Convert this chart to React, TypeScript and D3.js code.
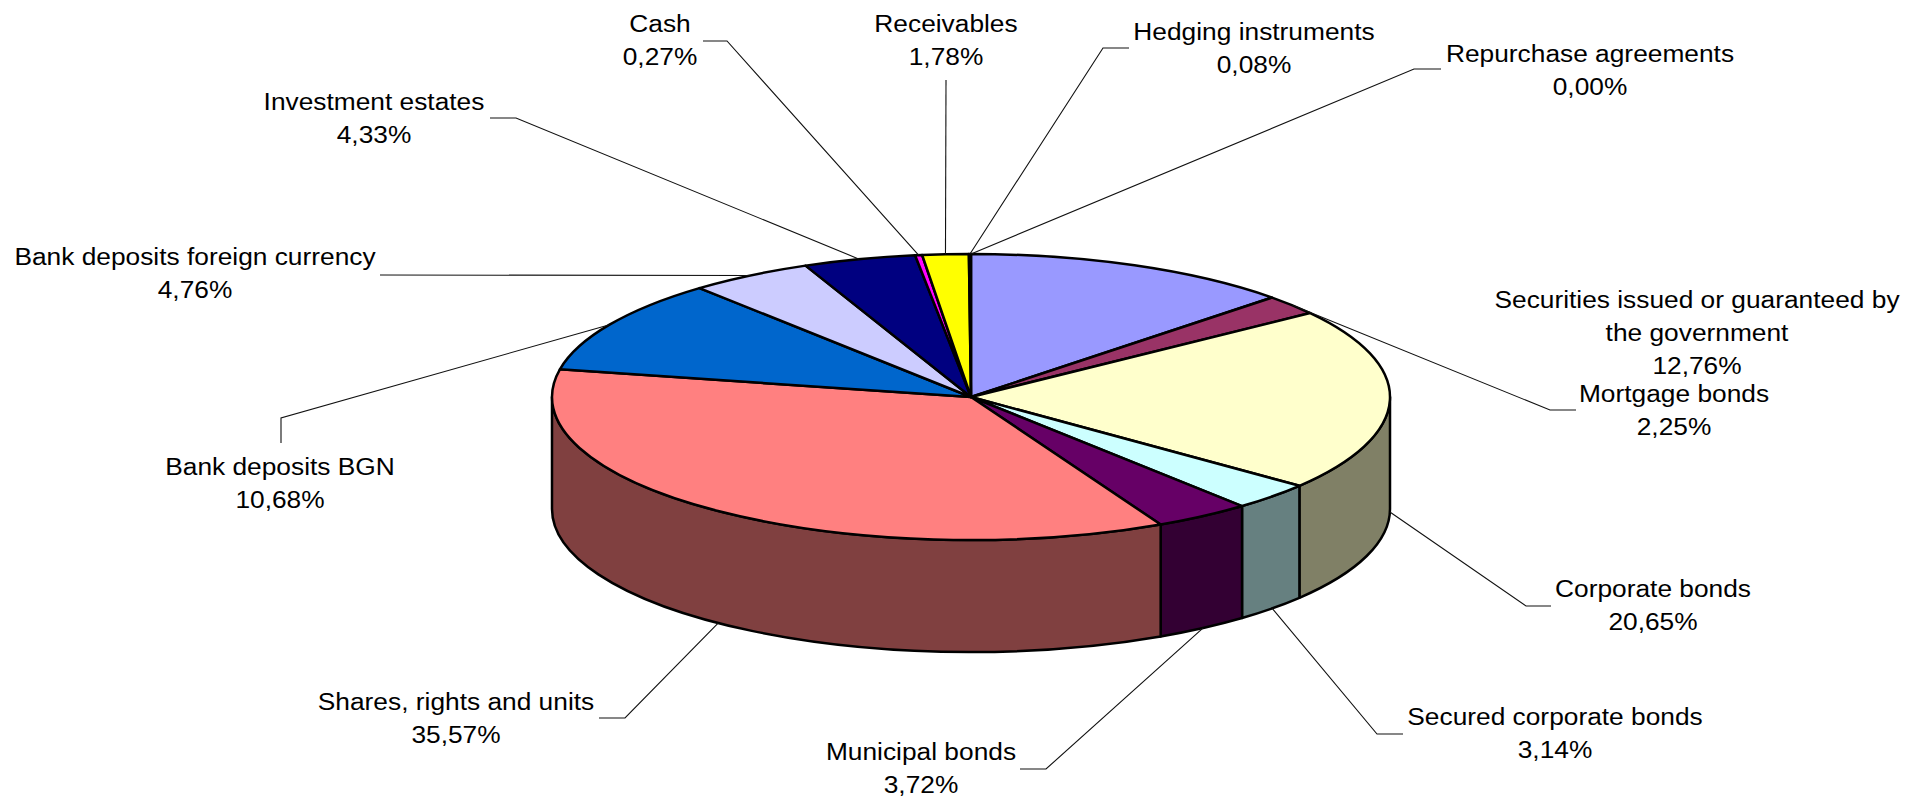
import React from 'react';
import * as d3 from 'd3';

const categories = [
  'Securities issued or guaranteed by the government',
  'Mortgage bonds',
  'Corporate bonds',
  'Secured corporate bonds',
  'Municipal bonds',
  'Shares, rights and units',
  'Bank deposits BGN',
  'Bank deposits foreign currency',
  'Investment estates',
  'Cash',
  'Receivables',
  'Hedging instruments',
  'Repurchase agreements',
];
const values = [12.76, 2.25, 20.65, 3.14, 3.72, 35.57, 10.68, 4.76, 4.33, 0.27, 1.78, 0.08, 0.0];
const colors = [
  '#9999FF', '#993366', '#FFFFCC', '#CCFFFF', '#660066', '#FF8080',
  '#0066CC', '#CCCCFF', '#000080', '#FF00FF', '#FFFF00', '#00FFFF', '#800080',
];

const W = 1908;
const H = 799;
const cx = 971;
const cy = 397;
const rx = 419;
const ry = 143;
const depth = 112;

// where each label sits (centre x, first baseline) and the leader points on the label side
const labelPos: { x: number; y: number; leader: number[][] }[] = [
  { x: 1697, y: 308, leader: [] },
  { x: 1674, y: 402, leader: [[1576, 410], [1550, 410]] },
  { x: 1653, y: 597, leader: [[1551, 606], [1526, 606]] },
  { x: 1555, y: 725, leader: [[1403, 734], [1377, 734]] },
  { x: 921, y: 760, leader: [[1020, 769], [1046, 769]] },
  { x: 456, y: 710, leader: [[599, 718], [625, 718]] },
  { x: 280, y: 475, leader: [[281, 443], [281, 418]] },
  { x: 195, y: 265, leader: [[380, 275]] },
  { x: 374, y: 110, leader: [[490, 118], [516, 118]] },
  { x: 660, y: 32, leader: [[703, 41], [727, 41]] },
  { x: 946, y: 32, leader: [[946, 80]] },
  { x: 1254, y: 40, leader: [[1129, 48], [1103, 48]] },
  { x: 1590, y: 62, leader: [[1441, 69], [1414, 69]] },
];
const wrapAt: Record<number, number> = { 0: 34 };

const lineGap = 33;
const fontSize = 23.5;
const stretch = 1.12;

const fmt = d3.formatLocale({ decimal: ',', thousands: ' ', grouping: [3], currency: ['', ''] }).format('.2f');

function pt(a: number, dy = 0): [number, number] {
  return [cx + rx * Math.sin(a), cy - ry * Math.cos(a) + dy];
}

function topPath(a0: number, a1: number) {
  const [x0, y0] = pt(a0);
  const [x1, y1] = pt(a1);
  const large = a1 - a0 > Math.PI ? 1 : 0;
  return `M${cx},${cy}L${x0},${y0}A${rx},${ry} 0 ${large} 1 ${x1},${y1}Z`;
}

function sidePath(a0: number, a1: number) {
  const [x0, y0] = pt(a0);
  const [x1, y1] = pt(a1);
  const [x2, y2] = pt(a1, depth);
  const [x3, y3] = pt(a0, depth);
  return `M${x0},${y0}A${rx},${ry} 0 0 1 ${x1},${y1}L${x2},${y2}A${rx},${ry} 0 0 0 ${x3},${y3}Z`;
}

function shade(c: string) {
  const r = d3.rgb(c);
  return d3.rgb(r.r * 0.5, r.g * 0.5, r.b * 0.5).formatHex();
}

export default function App() {
  const arcs = d3.pie<number>().sort(null).value((d) => d)(values);

  const sides = arcs
    .map((a, i) => {
      const s = Math.max(a.startAngle, Math.PI / 2);
      const e = Math.min(a.endAngle, (3 * Math.PI) / 2);
      return e > s ? { i, s, e } : null;
    })
    .filter((d) => d !== null) as { i: number; s: number; e: number }[];

  return (
    <svg
      width={W}
      height={H}
      style={{ position: 'absolute', left: 0, top: 0, background: '#fff' }}
      fontFamily="'Liberation Sans', Arial, sans-serif"
    >
      <g stroke="#000" strokeWidth={2.5} strokeLinejoin="round">
        {sides.map((d) => (
          <path key={'s' + d.i} d={sidePath(d.s, d.e)} fill={shade(colors[d.i])} />
        ))}
        {arcs.map((a, i) =>
          a.endAngle - a.startAngle > 0 ? (
            <path key={'t' + i} d={topPath(a.startAngle, a.endAngle)} fill={colors[i]} />
          ) : null
        )}
      </g>
      <g fill="none" stroke="#111" strokeWidth={1.1}>
        {arcs.map((a, i) => {
          const lp = labelPos[i];
          if (!lp.leader.length) return null;
          const mid = (a.startAngle + a.endAngle) / 2;
          const front = Math.cos(mid) < 0;
          const end = pt(mid, front ? depth : 0);
          const pts = [...lp.leader, end] as [number, number][];
          return <path key={'l' + i} d={d3.line()(pts) || ''} />;
        })}
      </g>
      <g fontSize={fontSize} fill="#000" textAnchor="middle">
        {categories.map((c, i) => {
          const lp = labelPos[i];
          const lines = wrapAt[i] ? [c.slice(0, wrapAt[i]).trim(), c.slice(wrapAt[i]).trim()] : [c];
          lines.push(fmt(values[i]) + '%');
          return (
            <text key={'x' + i} transform={`translate(${lp.x},${lp.y}) scale(${stretch},1)`}>
              {lines.map((t, j) => (
                <tspan key={j} x={0} y={j * lineGap}>
                  {t}
                </tspan>
              ))}
            </text>
          );
        })}
      </g>
    </svg>
  );
}
